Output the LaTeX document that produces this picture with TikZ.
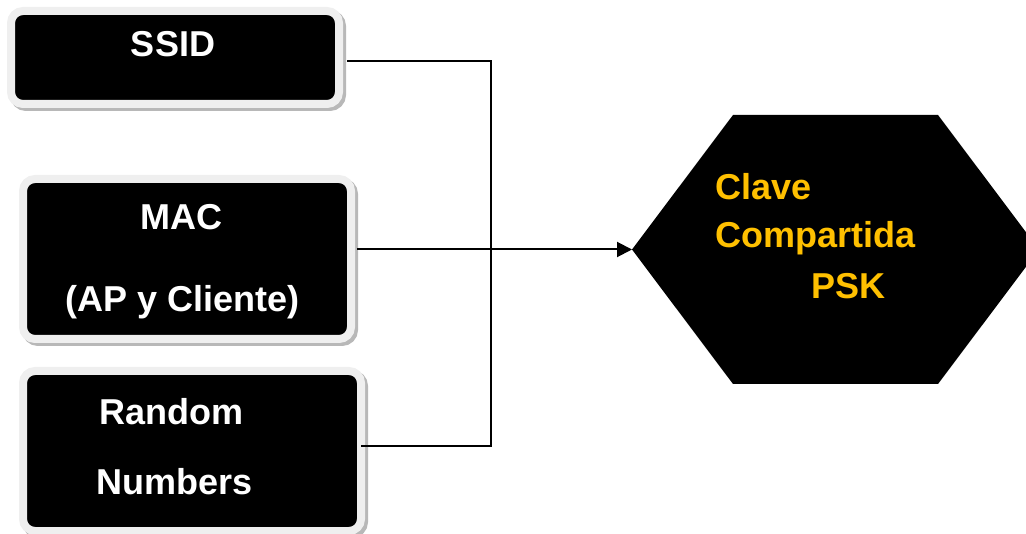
\documentclass[tikz,border=0pt]{standalone}
\usepackage{fontspec}
\setmainfont{Liberation Sans}
\usetikzlibrary{calc,arrows.meta}
\definecolor{rim}{HTML}{EFEFEF}
\definecolor{rimshade}{HTML}{B8B8B8}
\definecolor{keygold}{HTML}{FFC000}
\tikzset{
  inbox/.style={rounded corners=12pt, fill=black, draw=rim, line width=8pt,
    inner sep=0pt, outer sep=0pt,
    preaction={draw=rimshade, line width=8pt, transform canvas={shift={(3pt,-3pt)}}}},
  lbl/.style={text=white, anchor=base, inner sep=0pt,
    font=\bfseries\fontsize{36}{40}\selectfont},
  klbl/.style={text=keygold, anchor=base west, inner sep=0pt,
    font=\bfseries\fontsize{36}{40}\selectfont},
  wire/.style={line width=2pt, draw=black},
}
\begin{document}
\begin{tikzpicture}[x=1pt, y=-1pt]
\useasboundingbox (0,0) rectangle (1026,534);
\clip (0,0) rectangle (1026,534);

% bus joints
\coordinate (j1) at (491,61);
\coordinate (j2) at (491,446);

% target hexagon (frame node)
\node (psk) [minimum width=407pt, minimum height=269pt, inner sep=0pt, outer sep=0pt] at (835.5,249.5) {};
\fill[black] (psk.west) -- ($(psk.north west)+(101,0)$) -- ($(psk.north east)+(-101,0)$)
  -- (psk.east) -- ($(psk.south east)+(-101,0)$) -- ($(psk.south west)+(101,0)$) -- cycle;

% input boxes
\node (ssid) [inbox, minimum width=328pt, minimum height=93pt] at (175,57.5) {};
\node (mac)  [inbox, minimum width=328pt, minimum height=160pt] at (187,259) {};
\node (rnd)  [inbox, minimum width=338pt, minimum height=160pt] at (192,451) {};

% connectors
\draw[wire] ($(ssid.east |- j1)+(8,0)$) -- (j1) -- (j2) -- (rnd.east |- j2);
\draw[wire, -{Triangle[length=15pt,width=15pt]}] ($(mac.east |- psk.west)+(6,0)$) -- (psk.west);

% labels
\node (tssid) [lbl] at (173,57) {SSID};
\node (tmac)  [lbl] at (181.5,230) {MAC};
\node (tap)   [lbl] at (182.5,312) {(AP y Cliente)};
\node (trnd)  [lbl] at (171.5,425) {Random};
\node (tnum)  [lbl] at (175,495) {Numbers};
\node (tk1) [klbl] at (715,200) {Clave};
\node (tk2) [klbl] at (715,248) {Compartida};
\node (tk3) [klbl] at (811,299) {PSK};
\end{tikzpicture}
\end{document}
